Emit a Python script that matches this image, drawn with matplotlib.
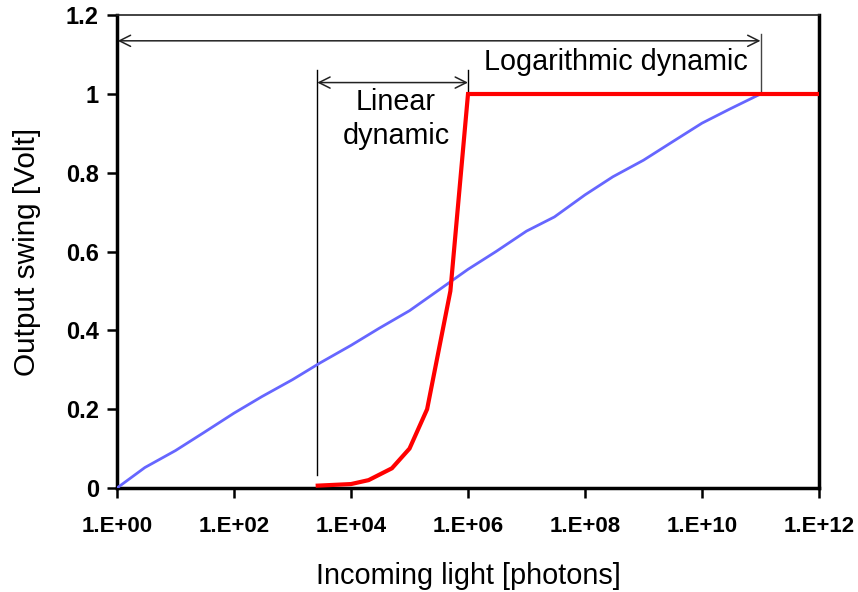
import matplotlib
matplotlib.use("Agg")
import matplotlib.pyplot as plt
import numpy as np

# ---- data ----
log_x = [1, 3, 10, 30, 1e2, 3e2, 1e3, 3e3, 1e4, 3e4, 1e5, 3e5, 1e6, 3e6,
         1e7, 3e7, 1e8, 3e8, 1e9, 3e9, 1e10, 3e10, 1e11]
log_y = [0.0, 0.052, 0.095, 0.14, 0.19, 0.232, 0.275, 0.318, 0.362, 0.405,
         0.45, 0.5, 0.555, 0.6, 0.652, 0.688, 0.744, 0.79, 0.832, 0.877,
         0.926, 0.962, 1.0]

lin_x = [2.7e3, 1e4, 2e4, 5e4, 1e5, 2e5, 5e5, 1e6, 3e6, 1e7, 3e7, 1e8, 3e8,
         1e9, 3e9, 1e10, 3e10, 1e11, 3e11, 1e12]
lin_y = [0.006, 0.01, 0.02, 0.05, 0.1, 0.2, 0.5, 1.0, 1.0, 1.0, 1.0, 1.0, 1.0,
         1.0, 1.0, 1.0, 1.0, 1.0, 1.0, 1.0]

x_ticks = [1e0, 1e2, 1e4, 1e6, 1e8, 1e10, 1e12]
x_tick_labels = ["1.E+00", "1.E+02", "1.E+04", "1.E+06", "1.E+08", "1.E+10", "1.E+12"]
y_ticks = [0, 0.2, 0.4, 0.6, 0.8, 1.0, 1.2]
y_tick_labels = ["0", "0.2", "0.4", "0.6", "0.8", "1", "1.2"]

plt.rcParams['font.family'] = ['Liberation Sans', 'DejaVu Sans']

fig = plt.figure(figsize=(8.58, 5.92), dpi=100)
ax = fig.add_axes([117/858, 1-488/592, (819-117)/858, (488-15.2)/592])

ax.plot(log_x, log_y, color='#6666FF', lw=2.0, solid_joinstyle='round', zorder=3)
ax.plot(lin_x, lin_y, color='#FF0000', lw=3.0, solid_joinstyle='miter', zorder=4)

ax.set_xscale('log')
ax.set_xlim(1, 1e12)
ax.set_ylim(0, 1.2)
ax.set_xticks(x_ticks)
ax.set_xticklabels(x_tick_labels, fontsize=16, fontweight='bold')
ax.xaxis.set_minor_locator(matplotlib.ticker.NullLocator())
ax.set_yticks(y_ticks)
ax.set_yticklabels(y_tick_labels, fontsize=17, fontweight='bold')
ax.tick_params(direction='out', length=7, width=1.8)
ax.tick_params(axis='y', pad=6)
ax.tick_params(axis='x', pad=13)

for s in ['left', 'bottom', 'right']:
    ax.spines[s].set_linewidth(2.5)
    ax.spines[s].set_color('black')
ax.spines['top'].set_linewidth(1.2)
ax.spines['top'].set_color('#222222')

ax.set_xlabel("Incoming light [photons]", fontsize=20.8, labelpad=18)
ax.set_ylabel("Output swing [Volt]", fontsize=21.4, labelpad=18)

ann_color = '#222222'
# Logarithmic dynamic arrow
ax.annotate('', xy=(1e11, 1.135), xytext=(1.03, 1.135),
            arrowprops=dict(arrowstyle='<->', lw=1.1, color=ann_color,
                            shrinkA=0, shrinkB=0, mutation_scale=20))
ax.plot([1e11, 1e11], [1.0, 1.152], color='#444444', lw=1.0, zorder=2)
ax.text(10**8.53, 1.082, "Logarithmic dynamic", fontsize=20.7,
        ha='center', va='center')

# Linear dynamic arrow
ax.annotate('', xy=(1e6, 1.029), xytext=(2.65e3, 1.029),
            arrowprops=dict(arrowstyle='<->', lw=1.1, color=ann_color,
                            shrinkA=0, shrinkB=0, mutation_scale=20))
ax.plot([2.65e3, 2.65e3], [0.033, 1.06], color='black', lw=1.0, zorder=2)
ax.plot([1e6, 1e6], [1.0, 1.06], color='black', lw=1.0, zorder=2)
ax.text(10**4.77, 0.937, "Linear\ndynamic", fontsize=20.7, ha='center',
        va='center', linespacing=1.3)

fig.savefig("out.png", dpi=100)
